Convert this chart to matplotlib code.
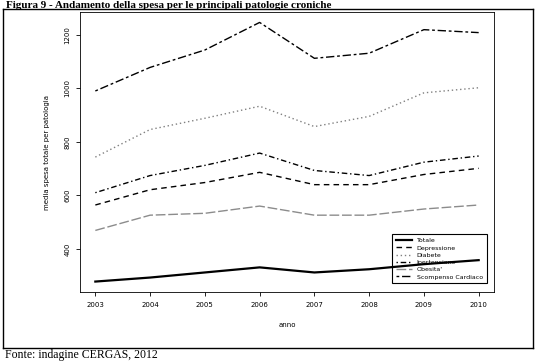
import matplotlib.pyplot as plt

# Dati (media spesa per patologia)
anni = [2003, 2004, 2005, 2006, 2007, 2008, 2009, 2010]
totale = [278, 293, 312, 331, 312, 324, 343, 358]
depressione = [564, 621, 648, 686, 640, 640, 678, 701]
diabete = [743, 846, 888, 933, 857, 895, 983, 1002]
ipertensione = [610, 674, 712, 758, 693, 674, 724, 747]
obesita = [469, 526, 533, 560, 526, 526, 549, 564]
scompenso = [990, 1078, 1143, 1246, 1112, 1131, 1219, 1208]

y_ticks = [400, 600, 800, 1000, 1200]

serie = [
    ('Totale', totale, '-', 'black', 1.6),
    ('Depressione', depressione, (0, (4, 3)), 'black', 1.0),
    ('Diabete', diabete, (0, (1, 2)), '0.5', 1.0),
    ('Ipertensione', ipertensione, (0, (1, 2, 4, 2)), 'black', 1.0),
    ("Obesita'", obesita, (0, (7, 2)), '0.55', 1.0),
    ('Scompenso Cardiaco', scompenso, (0, (2, 2, 6, 2)), 'black', 1.0),
]

fig = plt.figure(figsize=(5.36, 3.62), dpi=100)

# Cornice della pagina scansionata
def linea(x0, y0, x1, y1):
    fig.add_artist(plt.Line2D([x0 / 536, x1 / 536], [1 - y0 / 362, 1 - y1 / 362],
                              color='black', lw=1, transform=fig.transFigure))

linea(3, 9, 3, 348)
linea(533, 9, 533, 348)
linea(3, 9, 533, 9)
linea(3, 348, 533, 348)

fig.text(6 / 536, 1 - 0.5 / 362,
         'Figura 9 - Andamento della spesa per le principali patologie croniche',
         family='Liberation Serif', weight='bold', fontsize=8, va='top')
fig.text(5 / 536, 1 - 355 / 362, 'Fonte: indagine CERGAS, 2012',
         family='Liberation Serif', fontsize=8.5, va='center')

ax = fig.add_axes([80 / 536, 1 - 292 / 362, 414 / 536, 280 / 362])
for nome, valori, stile, colore, lw in serie:
    ax.plot(anni, valori, linestyle=stile, color=colore, lw=lw, label=nome)

ax.set_xlim(2002.72, 2010.28)
ax.set_ylim(239, 1285)
ax.set_xticks(anni)
ax.set_xticklabels([str(a) for a in anni])
ax.set_yticks(y_ticks)
ax.set_yticklabels([str(v) for v in y_ticks], rotation=90, va='center')
ax.tick_params(labelsize=5, length=3, width=0.6, direction='out', pad=4)
for s in ax.spines.values():
    s.set_linewidth(0.6)
ax.set_xlabel('anno', fontsize=5, labelpad=10)
ax.set_ylabel('media spesa totale per patologia', fontsize=5, labelpad=10)

leg = ax.legend(loc='lower right', fontsize=4.5, frameon=True, fancybox=False,
                handlelength=2.5, borderpad=0.6, labelspacing=0.3,
                bbox_to_anchor=(0.99, 0.02))
leg.get_frame().set_facecolor('none')
leg.get_frame().set_edgecolor('black')
leg.get_frame().set_alpha(None)
leg.get_frame().set_linewidth(0.8)
leg.set_zorder(1)

fig.savefig('out.png', dpi=100)
